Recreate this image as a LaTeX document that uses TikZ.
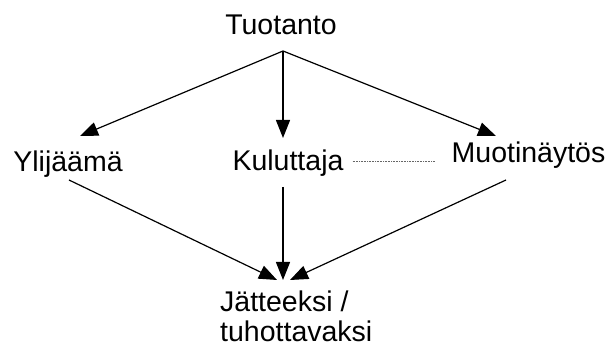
\documentclass[tikz,border=0pt]{standalone}
\usepackage{fontspec}
\setmainfont{Liberation Sans}
\usetikzlibrary{arrows.meta}
\begin{document}
\begin{tikzpicture}[x=1pt,y=-1pt,
  lbl/.style={inner sep=0pt,font=\fontsize{28.5}{30}\selectfont,text=black},
  conn/.style={line width=1.2pt,draw=black,-{Triangle[length=18pt,width=14pt]}},
  dotline/.style={line width=0.8pt,draw=black!60,dash pattern=on 0.8pt off 0.8pt}]
\useasboundingbox (0,0) rectangle (613,344);
\node[lbl,anchor=base] (t) at (281,35) {Tuotanto};
\node[lbl,anchor=base] (y) at (68,172) {Ylijäämä};
\node[lbl,anchor=base] (k) at (288,171) {Kuluttaja};
\node[lbl,anchor=base] (m) at (528.5,163) {Muotinäytös};
\node[lbl,anchor=base west,align=left] (j) at (220,342) {Jätteeksi /\\tuhottavaksi};
\draw[conn] ([xshift=2pt,yshift=-16pt]t.base) -- ([xshift=12pt,yshift=36pt]y.base);
\draw[conn] ([xshift=2pt,yshift=-16pt]t.base) -- ([xshift=-5pt,yshift=33pt]k.base);
\draw[conn] ([xshift=2pt,yshift=-16pt]t.base) -- ([xshift=-32.5pt,yshift=27pt]m.base);
\draw[conn] ([xshift=1pt,yshift=-8pt]y.base) -- ([xshift=57pt,yshift=62pt]j.base west);
\draw[conn] ([xshift=-5pt,yshift=-16pt]k.base) -- ([xshift=63pt,yshift=62pt]j.base west);
\draw[conn] ([xshift=-22.5pt,yshift=-17pt]m.base) -- ([xshift=70pt,yshift=62pt]j.base west);
\draw[dotline] ([xshift=9pt,yshift=10pt]k.base east) -- ([xshift=-16pt,yshift=2pt]m.base west);
\end{tikzpicture}
\end{document}
